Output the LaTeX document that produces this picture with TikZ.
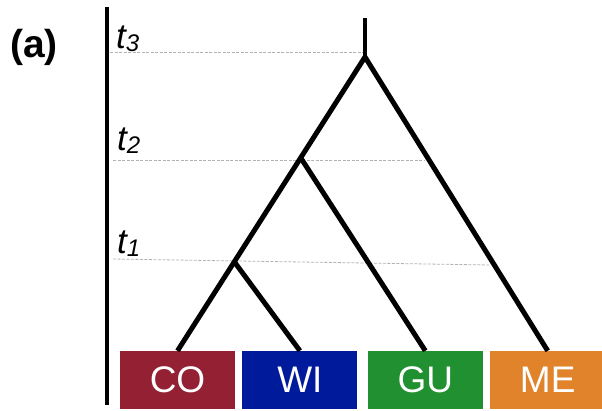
\documentclass[tikz,border=0pt]{standalone}
\usepackage{fontspec}
\setmainfont{Liberation Sans}
\usepackage{xcolor}
\usetikzlibrary{positioning,calc}

\definecolor{coRed}{HTML}{942033}
\definecolor{wiBlue}{HTML}{001A9C}
\definecolor{guGreen}{HTML}{209030}
\definecolor{meOrange}{HTML}{E0832A}

\newcommand{\tlab}[1]{{\fontsize{35}{35}\selectfont\itshape t}\raisebox{-3pt}{\fontsize{24}{24}\selectfont\itshape #1}}

\begin{document}
\begin{tikzpicture}[
  x=1pt,y=-1pt,
  branch/.style={line width=5pt,line join=round},
  axisline/.style={line width=4pt},
  guide/.style={draw=gray!60,line width=0.8pt,dash pattern=on 3pt off 1.5pt},
  leaf/.style={minimum width=115pt,minimum height=58pt,inner sep=0pt,
               text=white,font=\fontsize{37}{40}\selectfont},
  tick/.style={anchor=base west,inner sep=0pt}
]
\useasboundingbox (0,0) rectangle (602,410);

% panel label and time axis
\node[font=\fontsize{39}{40}\selectfont\bfseries] (panel) at (34,47) {(a)};
\coordinate (axtop) at (107,7);
\coordinate (axbot) at (107,405);
\draw[axisline] (axtop) -- (axbot);

% species boxes
\node[leaf,fill=coRed] (CO) at (177.5,380) {CO};
\node[leaf,fill=wiBlue,right=7pt of CO] (WI) {WI};
\node[leaf,fill=guGreen,right=10pt of WI] (GU) {GU};
\node[leaf,fill=meOrange,right=7pt of GU] (ME) {ME};

% internal nodes of the tree
\coordinate (stem) at (365,18);
\coordinate (root) at (365,57);
\coordinate (n2) at ($(root)!0.343!(CO.north)$);
\coordinate (n1) at ($(root)!0.697!(CO.north)$);

% time levels
\coordinate (g3) at (110,52);
\coordinate (g2) at (113,160);
\coordinate (g1) at (113,259);
\draw[guide] (g3) -- (root |- g3);
\draw[guide] (g2) -- (425,160);
\draw[guide] (g1) -- (490,265);
\node[tick] (t3) at (116,48) {\tlab{3}};
\node[tick] (t2) at (117,150) {\tlab{2}};
\node[tick] (t1) at (117,253) {\tlab{1}};

% branches
\draw[axisline] (stem) -- (root);
\draw[branch] (CO.north) -- (n1) -- (n2) -- (root) -- (ME.north);
\draw[branch] (n2) -- (GU.north);
\draw[branch] (n1) -- (WI.north);
\end{tikzpicture}
\end{document}
